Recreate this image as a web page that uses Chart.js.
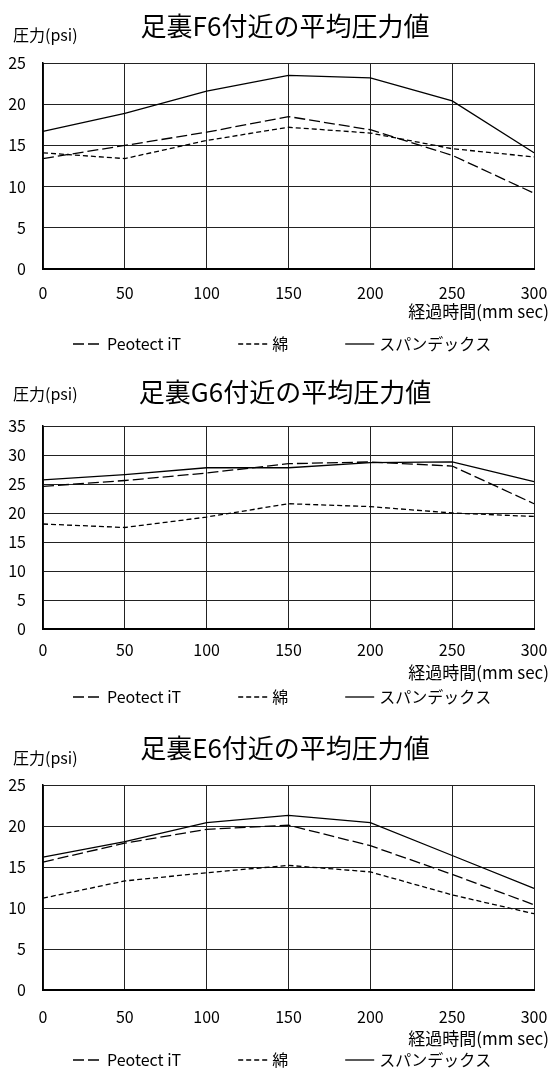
<!DOCTYPE html>
<html>
<head>
<meta charset="utf-8">
<script src="https://cdn.jsdelivr.net/npm/chart.js@4.4.1/dist/chart.umd.min.js"></script>
<style>
  body { margin: 0; background: #fff; width: 551px; height: 1072px; position: relative; overflow: hidden; }
  canvas { position: absolute; left: 0; }
</style>
</head>
<body>
<canvas id="chartF6" width="551" height="358" style="top:0px"></canvas>
<canvas id="chartG6" width="551" height="358" style="top:358px"></canvas>
<canvas id="chartE6" width="551" height="356" style="top:716px"></canvas>
<script>
// time axis (mm sec) and series names
const timeLabels = ['0', '50', '100', '150', '200', '250', '300'];
const seriesNames = ['Peotect iT', '綿', 'スパンデックス'];

// 足裏F6付近
const f6Protect = [13.4, 15.0, 16.6, 18.5, 16.9, 13.8, 9.2];
const f6Cotton  = [14.1, 13.4, 15.6, 17.2, 16.5, 14.6, 13.6];
const f6Spandex = [16.7, 18.9, 21.6, 23.5, 23.2, 20.4, 14.1];

// 足裏G6付近
const g6Protect = [24.6, 25.6, 26.9, 28.5, 28.8, 28.1, 21.6];
const g6Cotton  = [18.1, 17.5, 19.3, 21.6, 21.1, 20.0, 19.4];
const g6Spandex = [25.7, 26.6, 27.8, 27.8, 28.7, 28.8, 25.4];

// 足裏E6付近
const e6Protect = [15.6, 17.9, 19.6, 20.1, 17.6, 14.1, 10.4];
const e6Cotton  = [11.2, 13.3, 14.3, 15.2, 14.4, 11.6, 9.3];
const e6Spandex = [16.2, 18.1, 20.4, 21.3, 20.4, 16.4, 12.4];

// y axis tops
const yMaxF6 = 25;
const yMaxG6 = 35;
const yMaxE6 = 25;

const FONT = '"Noto Sans CJK JP", "Noto Sans", sans-serif';
const lineDashes = [[11, 4], [5, 3], []];
const X_AXIS_H = 45;

// draws the title, unit label, x-axis caption and legend
const frameText = {
  id: 'frameText',
  afterDraw(chart, args, opts) {
    const ctx = chart.ctx;
    ctx.save();
    ctx.fillStyle = '#000';
    ctx.textBaseline = 'middle';

    ctx.font = '26px ' + FONT;
    ctx.textAlign = 'center';
    ctx.fillText(opts.title, 285, opts.titleY);

    ctx.font = '16px ' + FONT;
    ctx.textAlign = 'left';
    ctx.fillText('圧力(psi)', 13, opts.unitY);

    ctx.font = '17px ' + FONT;
    ctx.textAlign = 'right';
    ctx.fillText('経過時間(mm sec)', 549, opts.xTitleY);

    // legend
    ctx.font = '16px ' + FONT;
    ctx.textAlign = 'left';
    let x = 73;
    const y = opts.legendY;
    chart.data.datasets.forEach(ds => {
      ctx.strokeStyle = '#000';
      ctx.lineWidth = 1.3;
      ctx.setLineDash(ds.borderDash);
      ctx.beginPath();
      ctx.moveTo(x, y);
      ctx.lineTo(x + 29, y);
      ctx.stroke();
      ctx.setLineDash([]);
      ctx.fillText(ds.label, x + 34, y);
      x += 34 + ctx.measureText(ds.label).width + 57;
    });
    ctx.restore();
  }
};

function makeChart(id, values, yMax, box) {
  const datasets = values.map((vals, i) => ({
    label: seriesNames[i],
    data: vals,
    borderColor: '#000',
    borderWidth: 1.3,
    borderDash: lineDashes[i],
    pointRadius: 0,
    tension: 0,
    fill: false
  }));

  return new Chart(document.getElementById(id), {
    type: 'line',
    data: { labels: timeLabels, datasets: datasets },
    plugins: [frameText],
    options: {
      responsive: false,
      animation: false,
      layout: {
        padding: { top: box.plotTop, left: 0, right: 17, bottom: box.height - box.plotBottom - X_AXIS_H }
      },
      plugins: {
        legend: { display: false },
        title: { display: false },
        tooltip: { enabled: false },
        frameText: box.text
      },
      scales: {
        x: {
          afterFit: s => { s.height = X_AXIS_H; s.paddingLeft = 0; s.paddingRight = 0; },
          grid: { color: '#222', lineWidth: 1, drawTicks: false },
          border: { color: '#000', width: 2 },
          ticks: { color: '#000', padding: box.tickPad, maxRotation: 0, font: { family: FONT, size: 16 } }
        },
        y: {
          min: 0,
          max: yMax,
          afterFit: s => { s.width = 43; },
          grid: { color: '#222', lineWidth: 1, drawTicks: false },
          border: { color: '#000', width: 1.5 },
          ticks: { stepSize: 5, color: '#000', padding: 17, font: { family: FONT, size: 16 } }
        }
      }
    }
  });
}

makeChart('chartF6', [f6Protect, f6Cotton, f6Spandex], yMaxF6, {
  height: 358, plotTop: 63, plotBottom: 269, tickPad: 14,
  text: { title: '足裏F6付近の平均圧力値', titleY: 26, unitY: 35, xTitleY: 312, legendY: 344 }
});
makeChart('chartG6', [g6Protect, g6Cotton, g6Spandex], yMaxG6, {
  height: 358, plotTop: 68, plotBottom: 271, tickPad: 11,
  text: { title: '足裏G6付近の平均圧力値', titleY: 34, unitY: 36, xTitleY: 315, legendY: 339 }
});
makeChart('chartE6', [e6Protect, e6Cotton, e6Spandex], yMaxE6, {
  height: 356, plotTop: 69, plotBottom: 274, tickPad: 17,
  text: { title: '足裏E6付近の平均圧力値', titleY: 32, unitY: 42, xTitleY: 323, legendY: 344 }
});
</script>
</body>
</html>
